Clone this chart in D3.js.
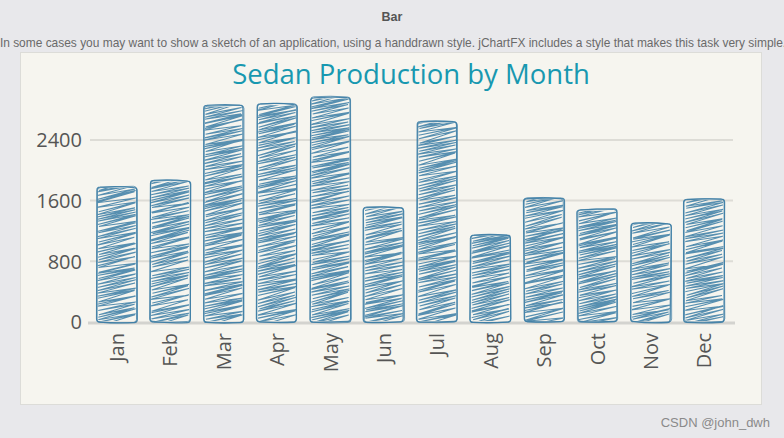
<!DOCTYPE html>
<html>
<head>
<meta charset="utf-8">
<script src="https://cdn.jsdelivr.net/npm/d3@7"></script>
<style>
  html, body { margin: 0; padding: 0; background: #e8e8eb; }
  svg { display: block; }
</style>
</head>
<body>
<svg id="chart" width="784" height="438"></svg>
<script>
const months = ["Jan", "Feb", "Mar", "Apr", "May", "Jun", "Jul", "Aug", "Sep", "Oct", "Nov", "Dec"];
const production = [1780, 1860, 2850, 2870, 2960, 1510, 2640, 1150, 1630, 1480, 1300, 1620];
const yTicks = [0, 800, 1600, 2400];

const svg = d3.select("#chart");
const W = 784, H = 438;
const plot = {left: 90, right: 731, top: 60, bottom: 322};
const ink = "#3b7ca4";

// page header
svg.append("text")
    .attr("x", W / 2).attr("y", 21)
    .attr("text-anchor", "middle")
    .style("font", "bold 12.5px 'Liberation Sans', Arial, sans-serif")
    .style("fill", "#555")
    .text("Bar");

svg.append("text")
    .attr("x", 393).attr("y", 47)
    .attr("text-anchor", "middle")
    .style("font", "11.95px 'Liberation Sans', Arial, sans-serif")
    .style("fill", "#6a6a6a")
    .text("In some cases you may want to show a sketch of an application, using a handdrawn style. jChartFX includes a style that makes this task very simple.");

// chart panel
svg.append("rect")
    .attr("x", 20.5).attr("y", 52.5)
    .attr("width", 741).attr("height", 352)
    .style("fill", "#f6f5ef")
    .style("stroke", "#dcdcd8");

svg.append("text")
    .attr("x", 411).attr("y", 84)
    .attr("text-anchor", "middle")
    .style("font", "27.5px 'Open Sans', 'Noto Sans', sans-serif")
    .style("fill", "#1898b0")
    .text("Sedan Production by Month");

const x = d3.scaleBand()
    .domain(months)
    .range([plot.left, plot.right])
    .paddingInner(0.25)
    .paddingOuter(0.125);

const y = d3.scaleLinear()
    .domain([0, 3450])
    .range([plot.bottom, plot.bottom - 3450 / 800 * 60.7]);

// grid
svg.append("g")
    .selectAll("line")
    .data(yTicks.filter(d => d > 0))
    .join("line")
    .attr("x1", plot.left).attr("x2", plot.right + 2)
    .attr("y1", d => y(d)).attr("y2", d => y(d))
    .style("stroke", "#dddcd6")
    .style("stroke-width", 2);

svg.append("line")
    .attr("x1", plot.left - 2).attr("x2", plot.right + 4)
    .attr("y1", y(0) + 1).attr("y2", y(0) + 1)
    .style("stroke", "#d3d3cf")
    .style("stroke-width", 3);

// y axis labels
svg.append("g")
    .selectAll("text")
    .data(yTicks)
    .join("text")
    .attr("x", 82).attr("y", d => y(d))
    .attr("dy", "0.36em")
    .attr("text-anchor", "end")
    .style("font", "20px 'Open Sans', 'Noto Sans', sans-serif")
    .style("fill", "#555")
    .text(d => d);

// x axis labels
svg.append("g")
    .selectAll("text")
    .data(months)
    .join("text")
    .attr("transform", d => `translate(${x(d) + x.bandwidth() / 2},${plot.bottom + 11}) rotate(-90)`)
    .attr("dy", "0.36em")
    .attr("text-anchor", "end")
    .style("font", "20px 'Open Sans', 'Noto Sans', sans-serif")
    .style("fill", "#555")
    .text(d => d);

// deterministic wobble for the hand-drawn look
let seed = 7;
function rnd() {
    seed = (seed * 16807) % 2147483647;
    return (seed - 1) / 2147483646;
}
const jit = a => (rnd() - 0.5) * 2 * a;

const defs = svg.append("defs");
const bars = svg.append("g");

months.forEach((m, i) => {
    const v = production[i];
    const x0 = x(m), x1 = x(m) + x.bandwidth();
    const yt = y(v), yb = y(0);

    defs.append("clipPath").attr("id", "clip" + i)
        .append("rect")
        .attr("x", x0 + 1).attr("y", yt + 1)
        .attr("width", x1 - x0 - 2).attr("height", yb - yt - 2)
        .attr("rx", 3);

    // hatch zigzag
    const pts = [];
    let yy = yb + 4;
    while (yy > yt - 14) {
        pts.push([x0 + 1 + jit(1.5), yy + jit(0.8)]);
        pts.push([x1 - 1 + jit(1.5), yy - 10 + jit(2)]);
        yy -= 1.8 + rnd() * 2.2;
    }
    const g = bars.append("g");
    g.append("path")
        .attr("clip-path", `url(#clip${i})`)
        .attr("d", d3.line()(pts))
        .style("fill", "none")
        .style("stroke", ink)
        .style("stroke-width", 1.05)
        .style("stroke-opacity", 0.85);

    // outline, drawn twice with a small wobble
    for (let k = 0; k < 2; k++) {
        const r = 3;
        const a = [x0 + jit(0.8), yt + jit(0.8)];
        const b = [x1 + jit(0.8), yt + jit(0.8)];
        const c = [x1 + jit(0.8), yb + jit(0.6)];
        const d = [x0 + jit(0.8), yb + jit(0.6)];
        const p = d3.path();
        p.moveTo(a[0] + r, a[1]);
        p.quadraticCurveTo((a[0] + b[0]) / 2, a[1] - 1.2, b[0] - r, b[1]);
        p.quadraticCurveTo(b[0], b[1], b[0], b[1] + r);
        p.lineTo(c[0], c[1] - r);
        p.quadraticCurveTo(c[0], c[1], c[0] - r, c[1]);
        p.quadraticCurveTo((c[0] + d[0]) / 2, c[1] + 1, d[0] + r, d[1]);
        p.quadraticCurveTo(d[0], d[1], d[0], d[1] - r);
        p.lineTo(a[0], a[1] + r);
        p.quadraticCurveTo(a[0], a[1], a[0] + r, a[1]);
        g.append("path")
            .attr("d", p.toString())
            .style("fill", "none")
            .style("stroke", ink)
            .style("stroke-width", k === 0 ? 1.3 : 0.8)
            .style("stroke-opacity", 0.9);
    }
});

// watermark
svg.append("text")
    .attr("x", 770).attr("y", 427)
    .attr("text-anchor", "end")
    .style("font", "13px 'Liberation Sans', Arial, sans-serif")
    .style("fill", "#8a8a8a")
    .text("CSDN @john_dwh");
</script>
</body>
</html>
